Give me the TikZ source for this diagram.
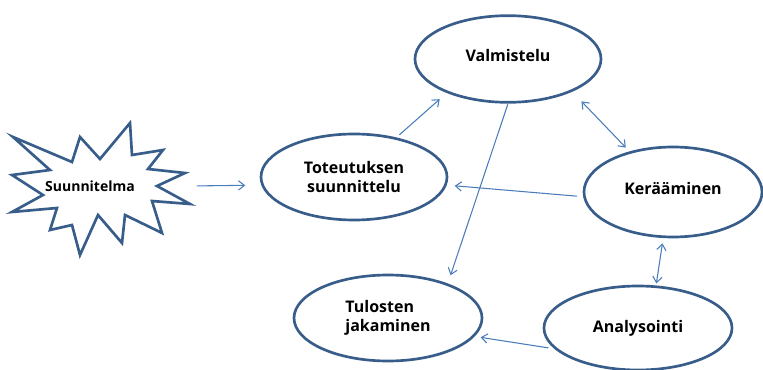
\documentclass[tikz,border=0pt]{standalone}
\usepackage{fontspec}
\setmainfont{Open Sans}
\usetikzlibrary{shapes.geometric, arrows.meta}
\definecolor{stageblue}{RGB}{56,93,138}
\definecolor{linkblue}{RGB}{74,126,187}

\begin{document}
\begin{tikzpicture}[x=0.75pt, y=-0.75pt,
  stage/.style={ellipse, draw=stageblue, line width=2pt, inner sep=0pt,
    minimum width=139.5pt, minimum height=65pt,
    font=\fontsize{12pt}{14.5pt}\selectfont\bfseries, align=center},
  burst/.style={minimum width=133.5pt, minimum height=99pt, inner sep=0pt},
  burstline/.style={draw=stageblue, line width=2pt, line join=miter},
  link/.style={draw=linkblue, line width=0.8pt, >={Straight Barb[length=4.5pt, width=7pt]}}]
\useasboundingbox (0,0) rectangle (763,370);

\draw [burstline] (13,137) -- (72,162) -- (80,137) -- (100,159) -- (130,123)
  -- (132,155) -- (163,150) -- (148,169) -- (185,173) -- (157,186)
  -- (190,204) -- (152,201) -- (162,233) -- (125,215) -- (122,243)
  -- (98,215) -- (80,255) -- (72,225) -- (50,230) -- (57,208)
  -- (12,212) -- (43,195) -- (12,175) -- (50,170) -- cycle;
\node [burst, label={[font=\fontsize{10.5pt}{12pt}\selectfont\bfseries, xshift=-8.25pt]center:Suunnitelma}] (suu) at (101,186) {};

\node [stage, text depth=5pt] (val) at (508,59) {Valmistelu};
\node [stage, minimum height=64.5pt] (tot) at (354,177) {Toteutuksen\\suunnittelu};
\node [stage, minimum width=133.5pt, minimum height=67.5pt, text depth=5pt] (ker) at (673,192) {Kerääminen};
\node [stage, minimum width=141pt, minimum height=63pt] (ana) at (638,328) {Analysointi};
\node [stage, minimum width=141pt, minimum height=64.5pt, align=left] (tul) at (388,318) {Tulosten\\jakaminen};

\draw [link, ->, shorten <=5pt, shorten >=12pt] (suu.east) -- (tot.185);
\draw [link, ->, shorten <=3pt, shorten >=7pt] (tot.43) -- (val.209.5);
\draw [link, <->, shorten <=10pt, shorten >=4pt] (val.333) -- (ker.137.5);
\draw [link, ->, shorten <=4.5pt, shorten >=6pt] (ker.183.6) -- (tot.355.5);
\draw [link, ->, shorten <=0.5pt, shorten >=6.5pt] (val.270) -- (tul.30);
\draw [link, <->, shorten <=4pt, shorten >=1.5pt] (ker.258) -- (ana.67);
\draw [link, ->, shorten <=4.5pt, shorten >=4.5pt] (ana.194) -- (tul.348.5);
\end{tikzpicture}
\end{document}
